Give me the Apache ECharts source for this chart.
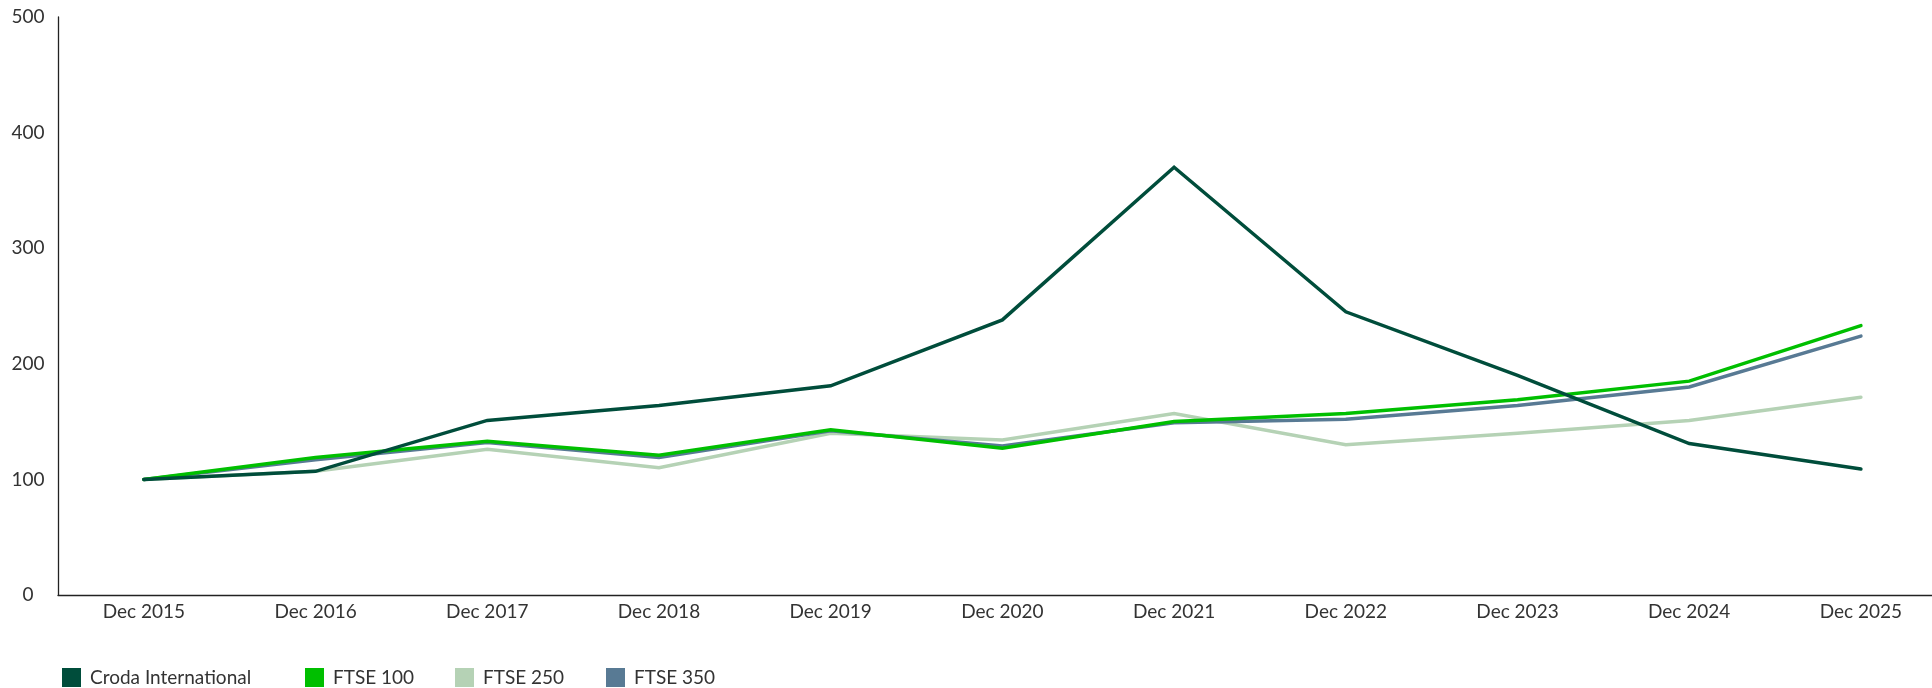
<!DOCTYPE html>
<html>
<head>
<meta charset="utf-8">
<script src="https://cdn.jsdelivr.net/npm/echarts@6/dist/echarts.min.js"></script>
<style>
html,body{margin:0;padding:0;background:#fff;}
#chart{width:1932px;height:688px;}
</style>
</head>
<body>
<div id="chart"></div>
<script>
const categories = ['Dec 2015','Dec 2016','Dec 2017','Dec 2018','Dec 2019','Dec 2020','Dec 2021','Dec 2022','Dec 2023','Dec 2024','Dec 2025'];
const croda   = [100, 107, 151, 164, 181, 238, 370, 245, 190, 131, 109];
const ftse100 = [100, 119, 133, 121, 143, 127, 150, 157, 169, 185, 233];
const ftse250 = [100, 107, 126, 110, 140, 134, 157, 130, 140, 151, 171];
const ftse350 = [100, 117, 132, 119, 142, 129, 149, 152, 164, 180, 224];
const seriesNames = ['Croda International','FTSE 100','FTSE 250','FTSE 350'];
const colors = ['#004D3B','#00BF00','#B5D2B5','#587A94'];
const FONT = 'Lato';

const chart = echarts.init(document.getElementById('chart'));
const legendLefts = [57, 300, 450, 601];
const dataSets = [croda, ftse100, ftse250, ftse350];
const order = [2, 3, 1, 0];
const catIdx = categories.map((c, k) => k);

chart.setOption({
  animation: false,
  color: colors,
  grid: {left: 58, top: 17, right: 0, bottom: 93, containLabel: false},
  legend: seriesNames.map((n, i) => ({
    data: [n],
    left: legendLefts[i],
    top: 663,
    icon: 'rect',
    itemWidth: 19,
    itemHeight: 19,
    itemGap: 0,
    textStyle: {fontFamily: FONT, fontSize: 19, color: '#333', padding: [0,0,0,4]}
  })),
  xAxis: {
    type: 'value',
    min: -0.5,
    max: 10.414,
    axisLine: {show: true, onZero: false, lineStyle: {color: '#222', width: 1.3}},
    axisTick: {show: false},
    splitLine: {show: false},
    axisLabel: {
      fontFamily: FONT, fontSize: 19, color: '#333', margin: 7,
      customValues: catIdx,
      formatter: v => categories[Math.round(v)] || ''
    }
  },
  yAxis: {
    type: 'value',
    min: 0, max: 500, interval: 100,
    axisLine: {show: true, onZero: false, lineStyle: {color: '#222', width: 1.3}},
    axisTick: {show: false},
    splitLine: {show: false},
    axisLabel: {fontFamily: FONT, fontSize: 19, color: '#333', align: 'center', margin: 30}
  },
  series: order.map(i => ({
    name: seriesNames[i],
    type: 'line',
    data: dataSets[i].map((v, k) => [catIdx[k], v]),
    symbol: 'none',
    lineStyle: {width: 3.5, color: colors[i], cap: 'round', join: 'miter'},
    itemStyle: {color: colors[i]},
    z: 2 + order.indexOf(i)
  }))
});
</script>
</body>
</html>
